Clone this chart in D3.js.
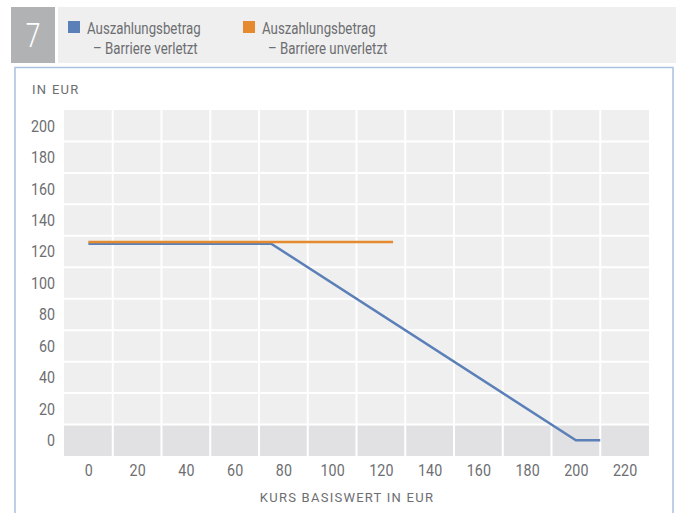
<!DOCTYPE html>
<html>
<head>
<meta charset="utf-8">
<script src="https://cdn.jsdelivr.net/npm/d3@7"></script>
<style>
  body { margin: 0; background: #fff; }
  svg text { font-family: "Roboto", "Noto Sans", sans-serif; fill: #6d6e71; }
</style>
</head>
<body>
<svg id="chart" width="676" height="513"></svg>
<script>
// data
const xTicks = [0, 20, 40, 60, 80, 100, 120, 140, 160, 180, 200, 220];
const yTicks = [0, 20, 40, 60, 80, 100, 120, 140, 160, 180, 200];
const barrierHit = [[0, 125], [75, 125], [200, 0], [210, 0]];
const barrierIntact = [[0, 126], [125, 126]];
const seriesNames = ['Auszahlungsbetrag', 'Auszahlungsbetrag'];
const seriesSub = ['– Barriere verletzt', '– Barriere unverletzt'];
const seriesColors = ['#5b80b8', '#e58a2f'];

// the original font is a condensed one, squeeze Roboto a bit
const SQUEEZE = 'scale(0.78,1)';

const svg = d3.select('#chart');

// header strip
svg.append('rect').attr('x', 11).attr('y', 7).attr('width', 44).attr('height', 56).attr('fill', '#b1b2b4');
svg.append('rect').attr('x', 58).attr('y', 7).attr('width', 618).attr('height', 56).attr('fill', '#efefef');
svg.append('text')
  .attr('transform', `translate(33, 47) ${SQUEEZE}`)
  .style('text-anchor', 'middle')
  .style('font-size', '34px')
  .style('font-weight', 300)
  .style('fill', '#fff')
  .text('7');

// legend
const legendX = [68, 243];
seriesNames.forEach((name, i) => {
  const g = svg.append('g').attr('transform', `translate(${legendX[i]}, 0)`);
  g.append('rect').attr('x', 0).attr('y', 21).attr('width', 12).attr('height', 12).attr('fill', seriesColors[i]);
  g.append('text').attr('transform', `translate(19, 34) ${SQUEEZE}`).style('font-size', '17px').text(name);
  g.append('text').attr('transform', `translate(25, 54) ${SQUEEZE}`).style('font-size', '17px').text(seriesSub[i]);
});

// panel border
svg.append('path')
  .attr('d', 'M15,514 V67.5 H673 V514')
  .attr('fill', 'none')
  .attr('stroke', '#a9c1de')
  .attr('stroke-width', 1.5);

// plot area
const plot = { left: 64, right: 649, top: 110, bottom: 456 };
const xScale = d3.scaleLinear().domain([-10, 230]).range([plot.left, plot.right]);
const yScale = d3.scaleLinear().domain([-10, 210]).range([plot.bottom, plot.top]);

svg.append('rect')
  .attr('x', plot.left).attr('y', plot.top)
  .attr('width', plot.right - plot.left).attr('height', plot.bottom - plot.top)
  .attr('fill', '#efefef');
// zero row is darker
svg.append('rect')
  .attr('x', plot.left).attr('y', yScale(10))
  .attr('width', plot.right - plot.left).attr('height', yScale(-10) - yScale(10))
  .attr('fill', '#e1e1e3');

// grid between the labels
const xGrid = d3.range(10, 230, 20);
const yGrid = d3.range(10, 210, 20);
svg.append('g').selectAll('line').data(xGrid).enter().append('line')
  .attr('x1', d => xScale(d)).attr('x2', d => xScale(d))
  .attr('y1', plot.top).attr('y2', plot.bottom)
  .attr('stroke', '#fff').attr('stroke-width', 2);
svg.append('g').selectAll('line').data(yGrid).enter().append('line')
  .attr('x1', plot.left).attr('x2', plot.right)
  .attr('y1', d => yScale(d)).attr('y2', d => yScale(d))
  .attr('stroke', '#fff').attr('stroke-width', 2);

// axes
const xAxis = svg.append('g')
  .attr('transform', `translate(0, ${plot.bottom + 20})`)
  .call(d3.axisBottom(xScale).tickValues(xTicks).tickSize(0).tickPadding(0));
const yAxis = svg.append('g')
  .attr('transform', `translate(${plot.left - 9}, 0)`)
  .call(d3.axisLeft(yScale).tickValues(yTicks).tickSize(0).tickPadding(0));
[xAxis, yAxis].forEach(a => {
  a.select('.domain').remove();
  a.selectAll('text')
    .attr('transform', 'scale(0.84,1)')
    .style('font-size', '17px').style('fill', '#6d6e71')
    .style('font-family', '"Roboto", sans-serif');
});
xAxis.selectAll('text').attr('dy', 0);

// axis titles
svg.append('text')
  .attr('x', 32).attr('y', 94)
  .style('font-size', '13px')
  .style('letter-spacing', '1.3px')
  .text('IN EUR');
svg.append('text')
  .attr('x', 347).attr('y', 502)
  .style('text-anchor', 'middle')
  .style('font-size', '13px')
  .style('letter-spacing', '1.25px')
  .text('KURS BASISWERT IN EUR');

// lines
const line = d3.line().x(d => xScale(d[0])).y(d => yScale(d[1]));
svg.append('path').datum(barrierHit)
  .attr('d', line).attr('fill', 'none')
  .attr('stroke', seriesColors[0]).attr('stroke-width', 2.5);
svg.append('path').datum(barrierIntact)
  .attr('d', line).attr('fill', 'none')
  .attr('stroke', seriesColors[1]).attr('stroke-width', 2.5);
</script>
</body>
</html>
